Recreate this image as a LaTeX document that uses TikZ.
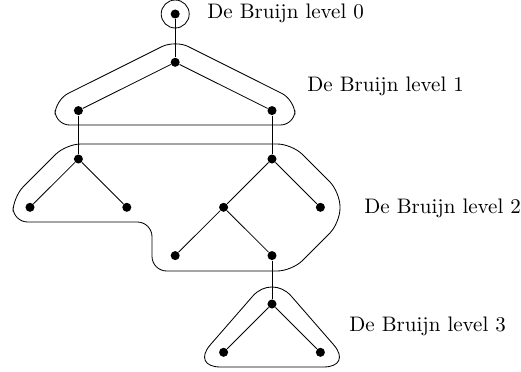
\documentclass[tikz,border=0pt]{standalone}
\usepackage{tikz}

\begin{document}
\begin{tikzpicture}[x=0.476pt,y=0.476pt,yscale=-1,xscale=1]
\tikzset{vtx/.style={circle,fill,inner sep=0pt,minimum size=4.3pt},
  hull/.style={rounded corners=7pt},
  lvl/.style={anchor=base west,inner sep=0pt}}
\useasboundingbox (0,0) rectangle (521,372);

% level 0
\node[vtx] (v0) at (175.2,14) {};
\draw (v0) circle (14);

% level 1
\node[vtx] (v1) at (175.2,62.3) {};
\node[vtx] (v1l) at (78.4,110.6) {};
\node[vtx] (v1r) at (272,110.6) {};
\draw (v1) -- (v1l);
\draw (v1) -- (v1r);
\draw[hull] (175.2,40) -- (295,100) -- (295,125) -- (55,125) -- (55,100) -- cycle;

% level 2
\node[vtx] (v2a) at (78.4,159) {};
\node[vtx] (v2al) at (30,207.3) {};
\node[vtx] (v2ar) at (126.8,207.3) {};
\node[vtx] (v2b) at (272,159) {};
\node[vtx] (v2bl) at (223.6,207.3) {};
\node[vtx] (v2br) at (320.4,207.3) {};
\node[vtx] (v2bll) at (175.2,255.6) {};
\node[vtx] (v2blr) at (272,255.6) {};
\draw (v2a) -- (v2al);
\draw (v2a) -- (v2ar);
\draw (v2b) -- (v2bl);
\draw (v2b) -- (v2br);
\draw (v2bl) -- (v2bll);
\draw (v2bl) -- (v2blr);
\draw[hull] (66,144) -- (292,144) -- (340,192) -- (340,223) -- (292,271) -- (152,271)
  -- (152,222) -- (13,222) -- (13,197) -- cycle;

% level 3
\node[vtx] (v3) at (272,304) {};
\node[vtx] (v3l) at (223.6,352.3) {};
\node[vtx] (v3r) at (320.4,352.3) {};
\draw (v3) -- (v3l);
\draw (v3) -- (v3r);
\draw[rounded corners=14pt] (272,274) -- (353,367) -- (191,367) -- cycle;

% links between levels
\draw (v0) -- (v1);
\draw (v1l) -- (v2a);
\draw (v1r) -- (v2b);
\draw (v2blr) -- (v3);

% labels
\node[lvl] (t0) at (207,19) {De Bruijn level 0};
\node[lvl] (t1) at (307,91) {De Bruijn level 1};
\node[lvl] (t2) at (364,213) {De Bruijn level 2};
\node[lvl] (t3) at (349,331) {De Bruijn level 3};

\end{tikzpicture}
\end{document}
